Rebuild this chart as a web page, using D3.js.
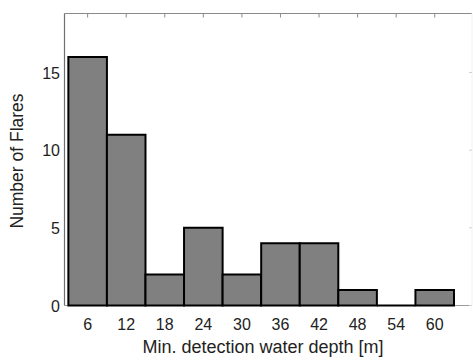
<!DOCTYPE html>
<html>
<head>
<meta charset="utf-8">
<script src="https://cdn.jsdelivr.net/npm/d3@7"></script>
<style>
  body { margin: 0; background: #fff; }
  svg text { font-family: "Liberation Sans", Arial, sans-serif; fill: #222; }
</style>
</head>
<body>
<div id="chart"></div>
<script>
// bin centres (m) and flare counts
const depths = [6, 12, 18, 24, 30, 36, 42, 48, 54, 60]
const counts = [16, 11, 2, 5, 2, 4, 4, 1, 0, 1]
const yTicks = [0, 5, 10, 15]
const binWidth = 6

const W = 473, H = 360
const plotL = 64.5, plotR = 472, plotT = 13.5, plotB = 305.5

const svg = d3.select("#chart").append("svg")
    .attr("width", W)
    .attr("height", H)

const x = d3.scaleLinear().domain([2.4, 65.8]).range([plotL, plotR])
const y = d3.scaleLinear().domain([0, 18.8]).range([plotB, plotT])

// box lines (drawn first so the bar outlines sit on top)
svg.append("line").attr("x1", plotL).attr("x2", plotR).attr("y1", plotT).attr("y2", plotT)
    .attr("stroke", "#8a8a8a").attr("stroke-width", 1.2)
svg.append("line").attr("x1", plotL).attr("x2", plotR).attr("y1", plotB).attr("y2", plotB)
    .attr("stroke", "#9a9a9a").attr("stroke-width", 1.2)
svg.append("line").attr("x1", plotL).attr("x2", plotL).attr("y1", plotT).attr("y2", plotB)
    .attr("stroke", "#707070").attr("stroke-width", 1.2)
svg.append("line").attr("x1", plotR).attr("x2", plotR).attr("y1", plotT).attr("y2", plotB)
    .attr("stroke", "#f2f2f2").attr("stroke-width", 1)

// bars as closed paths, so an empty bin still shows its base outline
const line = d3.line()
svg.append("g")
    .selectAll("path")
    .data(depths)
    .enter()
    .append("path")
    .attr("d", (d, i) => {
        const x0 = x(d - binWidth / 2), x1 = x(d + binWidth / 2)
        const y0 = y(0), y1 = y(counts[i])
        return line([[x0, y0], [x0, y1], [x1, y1], [x1, y0]]) + "Z"
    })
    .attr("fill", "#808080")
    .attr("stroke", "#000")
    .attr("stroke-width", 2)

// top ticks (inward)
svg.append("g")
    .selectAll("line")
    .data(depths)
    .enter()
    .append("line")
    .attr("x1", d => x(d)).attr("x2", d => x(d))
    .attr("y1", plotT).attr("y2", plotT + 4)
    .attr("stroke", "#8a8a8a")

// right ticks (inward, faint)
svg.append("g")
    .selectAll("line")
    .data(yTicks)
    .enter()
    .append("line")
    .attr("x1", plotR - 3).attr("x2", plotR)
    .attr("y1", d => y(d)).attr("y2", d => y(d))
    .attr("stroke", "#d0d0d0")

// tick labels
svg.append("g")
    .selectAll("text")
    .data(depths)
    .enter()
    .append("text")
    .attr("x", d => x(d))
    .attr("y", 330)
    .attr("text-anchor", "middle")
    .attr("font-size", 16)
    .text(d => d)

svg.append("g")
    .selectAll("text")
    .data(yTicks)
    .enter()
    .append("text")
    .attr("x", 60)
    .attr("y", d => y(d) + 6)
    .attr("text-anchor", "end")
    .attr("font-size", 16)
    .text(d => d)

// axis titles
svg.append("text")
    .attr("x", 263)
    .attr("y", 352.5)
    .attr("text-anchor", "middle")
    .attr("font-size", 18)
    .text("Min. detection water depth [m]")

svg.append("text")
    .attr("transform", "translate(23,161) rotate(-90)")
    .attr("text-anchor", "middle")
    .attr("font-size", 17.5)
    .text("Number of Flares")
</script>
</body>
</html>
